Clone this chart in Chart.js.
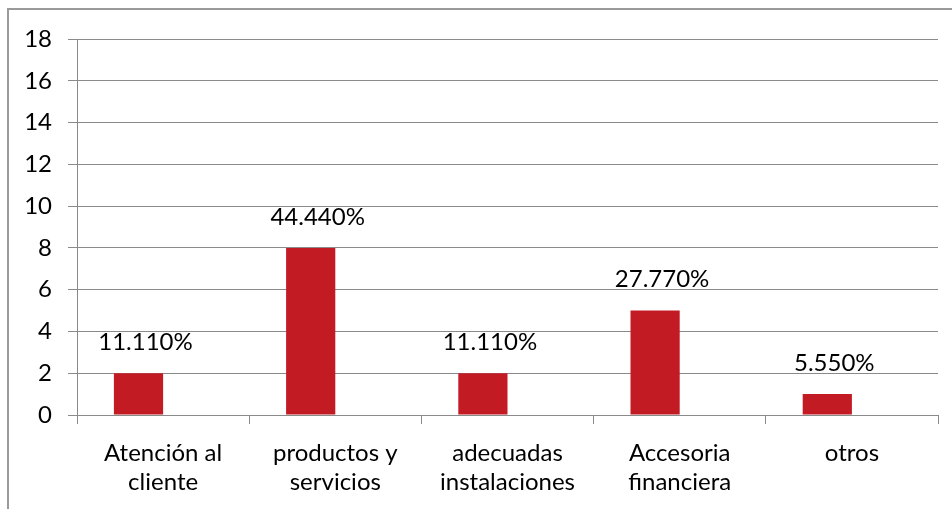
<!DOCTYPE html>
<html>
<head>
<meta charset="utf-8">
<script src="https://cdn.jsdelivr.net/npm/chart.js@4/dist/chart.umd.min.js"></script>
<style>
  html, body { margin: 0; padding: 0; background: #fff; overflow: hidden; }
  #wrap { position: relative; width: 952px; height: 509px; }
  #frame { position: absolute; left: 7px; top: 8px; width: 980px; height: 540px;
           border: 2px solid #9a9a9a; box-sizing: border-box; pointer-events: none; }
  canvas { position: absolute; left: 0; top: 0; }
</style>
</head>
<body>
<div id="wrap">
  <canvas id="c" width="952" height="509"></canvas>
  <div id="frame"></div>
</div>
<script>
// Respuestas por motivo
const categories = [
  ['Atención al', 'cliente'],
  ['productos y', 'servicios'],
  ['adecuadas', 'instalaciones'],
  ['Accesoria', 'financiera'],
  ['otros']
];
const counts = [2, 8, 2, 5, 1];
const yTicks = [0, 2, 4, 6, 8, 10, 12, 14, 16, 18];

const total = counts.reduce((a, b) => a + b, 0);
// share of each answer, cut to two decimals and written with three
const pctLabels = counts.map(v => (Math.floor(v / total * 10000) / 100).toFixed(3) + '%');

const FONT = 'Lato, "Open Sans", sans-serif';
const GRID = '#8a8a8a';

const pctLabelPlugin = {
  id: 'pctLabels',
  afterDatasetsDraw(chart) {
    const meta = chart.getDatasetMeta(0);
    const ctx = chart.ctx;
    ctx.save();
    ctx.font = '24px ' + FONT;
    ctx.fillStyle = '#000';
    ctx.textAlign = 'center';
    ctx.textBaseline = 'middle';
    meta.data.forEach((bar, i) => {
      ctx.fillText(pctLabels[i], bar.x + 7, bar.y - 31);
    });
    ctx.restore();
  }
};

new Chart(document.getElementById('c'), {
  type: 'bar',
  data: {
    labels: categories,
    datasets: [
      {
        label: 'Respuestas',
        data: counts,
        backgroundColor: '#c21b24',
        borderWidth: 0,
        categoryPercentage: 2 / 3.5,
        barPercentage: 1
      },
      {
        label: '',
        data: counts.map(() => null),
        backgroundColor: 'rgba(0,0,0,0)',
        categoryPercentage: 2 / 3.5,
        barPercentage: 1
      }
    ]
  },
  options: {
    responsive: false,
    animation: false,
    devicePixelRatio: 1,
    layout: { padding: { top: 39, right: 14, left: 0, bottom: 0 } },
    plugins: { legend: { display: false }, tooltip: { enabled: false } },
    scales: {
      x: {
        grid: { offset: true, drawOnChartArea: false, drawTicks: true, tickLength: 9,
                color: GRID, lineWidth: 1 },
        border: { color: GRID, width: 1 },
        ticks: { color: '#000', font: { family: FONT, size: 24, lineHeight: 1.2 },
                 padding: 15, maxRotation: 0, autoSkip: false },
        afterFit(scale) { scale.height = 94; }
      },
      y: {
        min: 0, max: 18,
        afterBuildTicks(scale) { scale.ticks = yTicks.map(v => ({ value: v })); },
        grid: { color: GRID, lineWidth: 1, tickLength: 9, drawTicks: true },
        border: { color: GRID, width: 1 },
        ticks: { color: '#000', font: { family: FONT, size: 24 }, padding: 16 },
        afterFit(scale) { scale.width = 77; }
      }
    }
  },
  plugins: [pctLabelPlugin]
});
</script>
</body>
</html>
